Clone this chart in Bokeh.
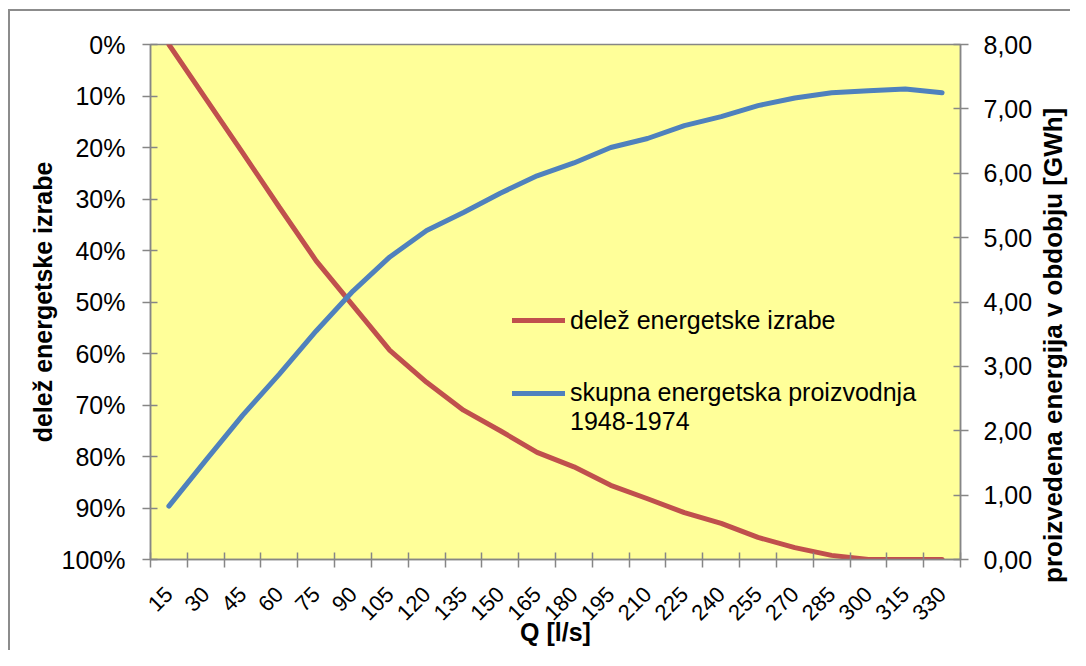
import math
from bokeh.plotting import figure
from bokeh.layouts import row
from bokeh.models import (Range1d, LinearAxis, FixedTicker, CustomJSTickFormatter,
                          Legend, LegendItem, NumeralTickFormatter)
from bokeh.embed import file_html
from bokeh.resources import INLINE

# ---- data ----
q_values = [15, 30, 45, 60, 75, 90, 105, 120, 135, 150, 165, 180, 195, 210,
            225, 240, 255, 270, 285, 300, 315, 330]
delez = [0.0, 0.105, 0.21, 0.316, 0.42, 0.507, 0.594, 0.656, 0.71, 0.75, 0.792,
         0.82, 0.856, 0.882, 0.909, 0.93, 0.957, 0.977, 0.992, 1.0, 1.0, 1.0]
energija = [0.83, 1.54, 2.24, 2.88, 3.55, 4.17, 4.70, 5.11, 5.39, 5.69, 5.96,
            6.16, 6.40, 6.54, 6.74, 6.88, 7.05, 7.17, 7.25, 7.28, 7.31, 7.25]
pct_ticks = [0.0, 0.1, 0.2, 0.3, 0.4, 0.5, 0.6, 0.7, 0.8, 0.9, 1.0]
gwh_ticks = [0, 1, 2, 3, 4, 5, 6, 7, 8]
label_red = "delež energetske izrabe"
label_blue = "\nskupna energetska proizvodnja\n1948-1974"
title_x = "Q [l/s]"
title_left = "delež energetske izrabe"
title_right = "proizvedena energija v obdobju [GWh]"

half = (q_values[1] - q_values[0]) / 2.0
bounds = [q - half for q in q_values] + [q_values[-1] + half]

FONT = "Liberation Sans"
AX = "#868686"
RED = "#C0504D"
BLUE = "#4F81BD"

W_MAIN, W_SIDE, H = 1035, 35, 650
p = figure(width=W_MAIN, height=H, output_backend="svg", toolbar_location=None,
           x_range=Range1d(bounds[0], bounds[-1]), y_range=Range1d(1.0, 0.0),
           x_axis_location=None, y_axis_location=None,
           min_border_left=150, min_border_right=W_MAIN - 961, min_border_top=44,
           min_border_bottom=91)
p.background_fill_color = "#FFFF99"
p.border_fill_alpha = 0
p.outline_line_color = AX
p.outline_line_width = 1.5
p.xgrid.visible = False
p.ygrid.visible = False
p.extra_y_ranges = {"gwh": Range1d(0, 8)}

def style(ax, size="25px"):
    ax.axis_line_color = AX
    ax.axis_line_width = 1.5
    ax.major_tick_line_color = AX
    ax.major_tick_line_width = 1.5
    ax.minor_tick_line_color = AX
    ax.minor_tick_line_width = 1.5
    ax.major_label_text_font = FONT
    ax.major_label_text_font_size = size
    ax.major_label_text_color = "black"
    ax.axis_label_text_font = FONT
    ax.axis_label_text_font_size = "25px"
    ax.axis_label_text_font_style = "bold"
    ax.axis_label_text_color = "black"

xax = LinearAxis(ticker=FixedTicker(ticks=q_values, minor_ticks=bounds), axis_label=title_x)
style(xax, "22px")
xax.major_tick_in = 0
xax.major_tick_out = 0
xax.minor_tick_in = 7
xax.minor_tick_out = 8
xax.major_label_orientation = math.pi / 4
xax.major_label_standoff = 23
xax.axis_label_standoff = -12
p.add_layout(xax, "below")

yl = LinearAxis(ticker=FixedTicker(ticks=pct_ticks, minor_ticks=[]),
                formatter=NumeralTickFormatter(format="0%"), axis_label=title_left)
style(yl)
yl.major_tick_in = 7
yl.major_tick_out = 8
yl.major_label_standoff = 17
yl.axis_label_standoff = 2
p.add_layout(yl, "left")

yr = LinearAxis(y_range_name="gwh", ticker=FixedTicker(ticks=gwh_ticks, minor_ticks=[]),
                formatter=CustomJSTickFormatter(code="return tick.toFixed(2).replace('.', ',');"))
style(yr)
yr.major_tick_in = 7
yr.major_tick_out = 8
yr.major_label_standoff = 15
p.add_layout(yr, "right")

r1 = p.line(q_values, delez, line_color=RED, line_width=5, line_cap="round")
r2 = p.line(q_values, energija, y_range_name="gwh", line_color=BLUE, line_width=5,
            line_cap="round")

leg = Legend(items=[LegendItem(label=label_red, renderers=[r1]),
                    LegendItem(label=label_blue, renderers=[r2])],
             location=(362, 123))
leg.background_fill_alpha = 0
leg.border_line_color = None
leg.padding = 0
leg.margin = 0
leg.glyph_width = 53
leg.glyph_height = 30
leg.label_standoff = 5
leg.spacing = 14
leg.label_text_font = FONT
leg.label_text_font_size = "25px"
leg.label_text_color = "black"
p.add_layout(leg)

# narrow side panel carrying the right-hand axis title (reads bottom-to-top);
# trailing no-break spaces move the centred text down to where the reference has it
p2 = figure(width=W_SIDE, height=H, output_backend="svg", toolbar_location=None,
            title=title_right + "\u00a0" * 12, title_location="left",
            x_axis_location=None, y_axis_location=None,
            min_border_left=0, min_border_right=0, min_border_top=44, min_border_bottom=0)
p2.title.text_font = FONT
p2.title.text_font_size = "26px"
p2.title.text_font_style = "bold"
p2.title.text_color = "black"
p2.title.align = "center"
p2.title.standoff = 0
p2.border_fill_alpha = 0
p2.background_fill_alpha = 0
p2.outline_line_color = None
p2.xgrid.visible = False
p2.ygrid.visible = False

lay = row(p, p2)
lay.styles = {"background": ("linear-gradient(#8c8c8c, #8c8c8c) 8px 9px / calc(100% - 8px) 2px no-repeat, "
                             "linear-gradient(#8c8c8c, #8c8c8c) 8px 9px / 2px calc(100% - 9px) no-repeat, "
                             "#ffffff")}

open("out.html", "w").write(file_html(lay, INLINE))
